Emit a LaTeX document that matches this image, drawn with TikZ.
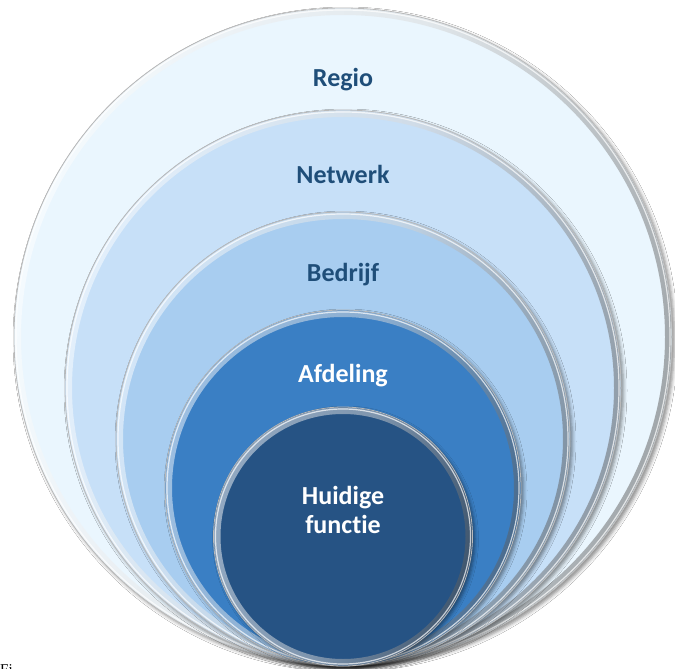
\documentclass[tikz,border=0pt]{standalone}
\usepackage{fontspec}
\setmainfont[Ligatures=NoCommon]{Carlito}
\newfontfamily\capfont{Liberation Serif}
\usetikzlibrary{shadows.blur}

\definecolor{cRegio}{HTML}{EAF6FE}
\definecolor{cNetwerk}{HTML}{C7E0F8}
\definecolor{cBedrijf}{HTML}{A8CDF0}
\definecolor{cAfdeling}{HTML}{3A7FC4}
\definecolor{cHuidig}{HTML}{265384}
\definecolor{txtDark}{HTML}{1F4E79}

\tikzset{
  disc/.style={circle, inner sep=0pt, outer sep=0pt,
    blur shadow={shadow xshift=2.5pt, shadow yshift=-2.5pt,
                 shadow blur radius=3.5pt, shadow opacity=45}},
  rim/.style={even odd rule, top color=white, bottom color=black!65,
              middle color=white!70!gray, shading angle=75, fill opacity=0.5},
  edge/.style={draw=gray!55, line width=0.8pt},
  lbl/.style={anchor=base, font=\bfseries\fontsize{26}{29}\selectfont,
              align=center, text=txtDark},
  lblw/.style={lbl, text=white}
}

\begin{document}
\begin{tikzpicture}[x=1pt,y=-1pt]
  \useasboundingbox (0,0) rectangle (675,669);
  \fill[white] (0,0) rectangle (675,669);

  % nested discs, all resting on the same bottom point
  \foreach \nm/\cy/\r/\col in {regio/337/329/cRegio,
                              netwerk/388/278/cNetwerk,
                              bedrijf/439/227/cBedrijf,
                              afdeling/488/178/cAfdeling,
                              huidig/536.5/129.5/cHuidig}{
    \node[disc, fill=\col, minimum size={2*\r*1pt}] (\nm) at (343,\cy) {};
    \shade[rim] (\nm.center) circle[radius={\r*1pt-0.5pt}]
                             circle[radius={\r*1pt-7pt}];
    \draw[edge] (\nm.center) circle[radius={\r*1pt}];
    \draw[white, line width=1.2pt, opacity=0.7]
      (\nm.center) circle[radius={\r*1pt-2pt}];
  }

  % labels
  \node[lbl]  (tregio)    at (343,87)  {Regio};
  \node[lbl]  (tnetwerk)  at (343,183) {Netwerk};
  \node[lbl]  (tbedrijf)  at (343,281) {Bedrijf};
  \node[lblw] (tafdeling) at (343,382) {Afdeling};
  \node[lblw] (thuidig)   at (343,533) {Huidige\\functie};

  % caption, cut off at the lower edge
  \begin{scope}
    \clip (0,0) rectangle (675,669);
    \node[anchor=base west, inner sep=0pt, font=\capfont\fontsize{15}{18}\selectfont]
      (caption) at (0,674.5) {Fi};
  \end{scope}
\end{tikzpicture}
\end{document}
